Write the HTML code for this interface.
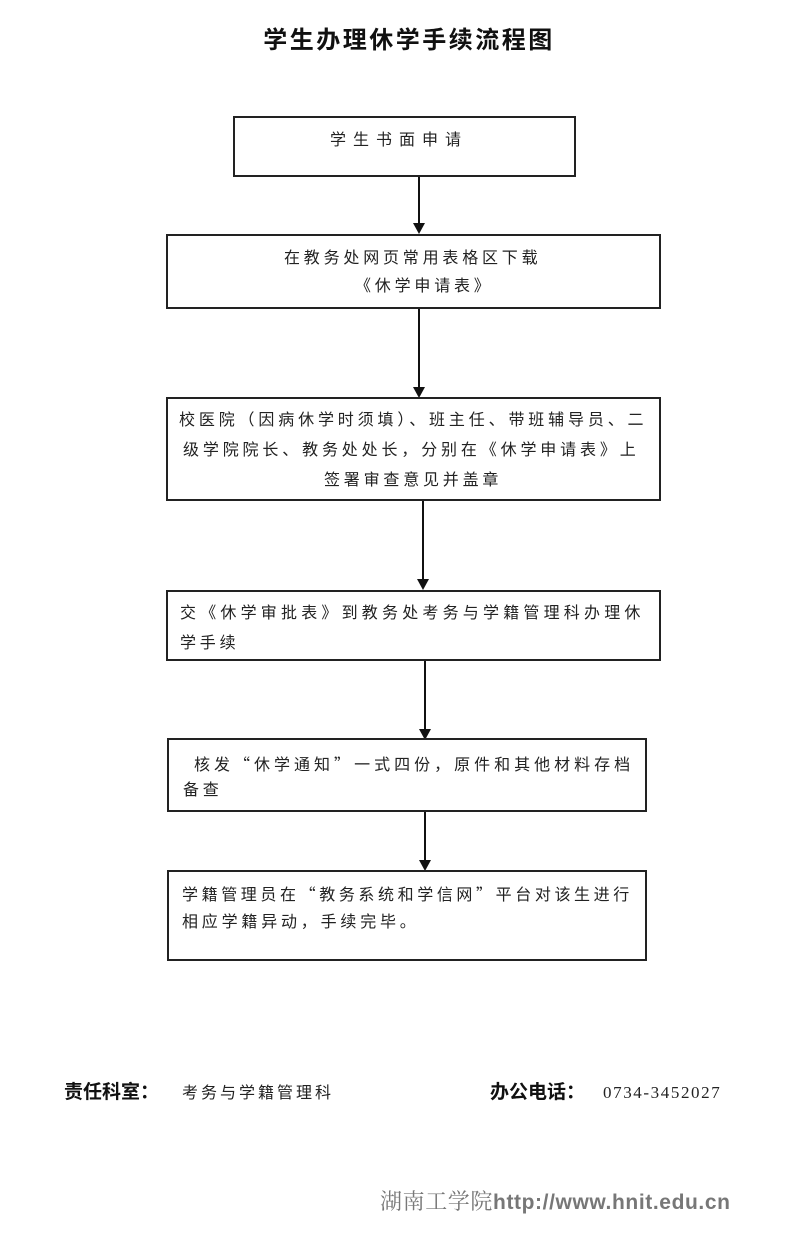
<!DOCTYPE html>
<html><head><meta charset="utf-8"><style>
body{margin:0;background:#fff;}
#c{position:relative;width:800px;height:1234px;overflow:hidden;background:#fff;font-family:"Liberation Sans","Noto Sans CJK SC",sans-serif;color:#222;}
.b{position:absolute;border:2px solid #222;box-sizing:border-box;}
.t{position:absolute;font-size:16px;letter-spacing:3.8px;white-space:nowrap;line-height:20px;}
.q{font-family:"Noto Sans CJK SC",sans-serif;}
.v{position:absolute;width:2px;background:#111;}
.h{position:absolute;width:0;height:0;border-left:6px solid transparent;border-right:6px solid transparent;border-top:11px solid #111;}
</style></head><body><div id="c">
<div style="position:absolute;left:0;width:800px;top:27px;text-align:center;font-size:24px;font-weight:bold;line-height:28px;color:#111;letter-spacing:2.5px;padding-left:18px;box-sizing:border-box">学生办理休学手续流程图</div>

<div class="b" style="left:233px;top:116px;width:343px;height:61px"></div>
<div class="t" style="left:330px;top:131px;letter-spacing:7px">学生书面申请</div>
<div class="v" style="left:418px;top:177px;height:48px"></div><div class="h" style="left:413px;top:223px"></div>

<div class="b" style="left:166px;top:234px;width:495px;height:75px"></div>
<div class="t" style="left:284px;top:249px">在教务处网页常用表格区下载</div>
<div class="t" style="left:355px;top:277px">《休学申请表》</div>
<div class="v" style="left:418px;top:309px;height:80px"></div><div class="h" style="left:413px;top:387px"></div>

<div class="b" style="left:166px;top:397px;width:495px;height:104px"></div>
<div class="t" style="left:179px;top:411px;letter-spacing:3.85px">校医院（因病休学时须填）、班主任、带班辅导员、二</div>
<div class="t" style="left:183px;top:441px;letter-spacing:3.85px">级学院院长、教务处处长，分别在《休学申请表》上</div>
<div class="t" style="left:324px;top:471px">签署审查意见并盖章</div>
<div class="v" style="left:422px;top:501px;height:80px"></div><div class="h" style="left:417px;top:579px"></div>

<div class="b" style="left:166px;top:590px;width:495px;height:71px"></div>
<div class="t" style="left:180px;top:604px;letter-spacing:4.2px">交《休学审批表》到教务处考务与学籍管理科办理休</div>
<div class="t" style="left:180px;top:634px">学手续</div>
<div class="v" style="left:424px;top:661px;height:70px"></div><div class="h" style="left:419px;top:729px"></div>

<div class="b" style="left:167px;top:738px;width:480px;height:74px"></div>
<div class="t" style="left:194px;top:753px;letter-spacing:4px">核发<span class="q">“</span>休学通知<span class="q">”</span>一式四份，原件和其他材料存档</div>
<div class="t" style="left:183px;top:781px">备查</div>
<div class="v" style="left:424px;top:812px;height:50px"></div><div class="h" style="left:419px;top:860px"></div>

<div class="b" style="left:167px;top:870px;width:480px;height:91px"></div>
<div class="t" style="left:182px;top:883px;letter-spacing:3.6px">学籍管理员在<span class="q">“</span>教务系统和学信网<span class="q">”</span>平台对该生进行</div>
<div class="t" style="left:182px;top:913px">相应学籍异动，手续完毕。</div>

<div style="position:absolute;left:64px;top:1082px;font-size:19px;font-weight:bold;color:#111;line-height:22px">责任科室：</div>
<div style="position:absolute;left:182px;top:1084px;font-size:16px;line-height:20px;letter-spacing:3px">考务与学籍管理科</div>
<div style="position:absolute;left:490px;top:1082px;font-size:19px;font-weight:bold;color:#111;line-height:22px">办公电话：</div>
<div style="position:absolute;left:603px;top:1083px;font-size:17px;line-height:20px;letter-spacing:1.6px;font-family:'Liberation Serif',serif">0734-3452027</div>

<div style="position:absolute;left:380px;top:1188px;font-size:21px;line-height:28px;color:#777;white-space:nowrap;letter-spacing:0.6px"><span style="font-family:'Liberation Serif','Noto Serif CJK SC',serif;font-size:22px">湖南工学院</span><b style="font-family:'Liberation Sans',sans-serif">http://www.hnit.edu.cn</b></div>
</div></body></html>
